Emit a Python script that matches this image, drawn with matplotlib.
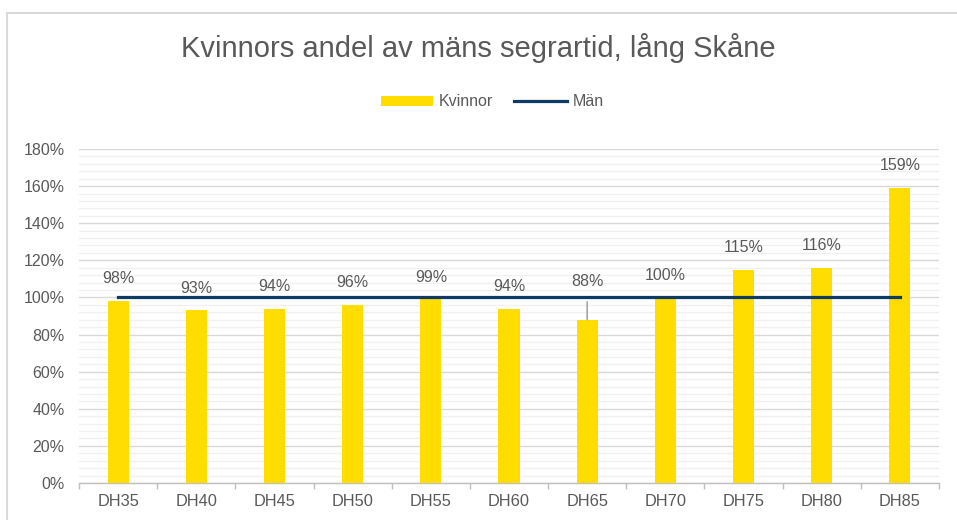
import matplotlib.pyplot as plt
from matplotlib.lines import Line2D
from matplotlib.ticker import MultipleLocator, FuncFormatter

plt.rcParams['font.family'] = ['Liberation Sans', 'DejaVu Sans']

categories = ['DH35', 'DH40', 'DH45', 'DH50', 'DH55', 'DH60', 'DH65', 'DH70', 'DH75', 'DH80', 'DH85']
kvinnor = [98, 93, 94, 96, 99, 94, 88, 100, 115, 116, 159]
man = [100] * len(categories)
# labels Excel pushed up with a leader line (index -> label height in %)
moved_labels = {6: 108.4}

YELLOW = '#FFDD00'
NAVY = '#0E3A66'
TXT = '#595959'

fig = plt.figure(figsize=(9.57, 5.2), dpi=100)
ax = fig.add_axes([79 / 957, 1 - 483 / 520, 860 / 957, 334 / 520])

x = list(range(len(categories)))
bars = ax.bar(x, kvinnor, width=0.27, color=YELLOW, zorder=3, label='Kvinnor')
line, = ax.plot(x, man, color=NAVY, linewidth=2.3, zorder=4, label='Män')

for i, v in enumerate(kvinnor):
    if i in moved_labels:
        ax.annotate(f'{v}%', xy=(i, v), xytext=(i, moved_labels[i]), ha='center', va='center',
                    fontsize=11.5, color=TXT, zorder=5,
                    arrowprops=dict(arrowstyle='-', color='#A6A6A6', lw=1.2, shrinkA=7, shrinkB=0))
    else:
        ax.annotate(f'{v}%', xy=(i, v), xytext=(0, 16), textcoords='offset points',
                    ha='center', va='center', fontsize=11.5, color=TXT, zorder=5)

ax.set_xlim(-0.5, len(categories) - 0.5)
ax.set_ylim(0, 180)
ax.yaxis.set_major_locator(MultipleLocator(20))
ax.yaxis.set_minor_locator(MultipleLocator(4))
ax.yaxis.set_major_formatter(FuncFormatter(lambda v, p: f'{v:.0f}%'))
ax.grid(axis='y', which='major', color='#D9D9D9', linewidth=1.0, zorder=0)
ax.grid(axis='y', which='minor', color='#F0F0F0', linewidth=1.0, zorder=0)
ax.set_axisbelow(True)

ax.set_xticks(x)
ax.set_xticklabels(categories)
ax.set_xticks([i - 0.5 for i in range(len(categories) + 1)], minor=True)
ax.tick_params(axis='x', which='major', length=0, labelsize=11.8, labelcolor=TXT, pad=8)
ax.tick_params(axis='x', which='minor', length=4, color='#BFBFBF', width=1)
ax.tick_params(axis='y', which='both', length=0, labelsize=11.5, labelcolor=TXT, pad=10.5)

for s in ['top', 'right', 'left']:
    ax.spines[s].set_visible(False)
ax.spines['bottom'].set_color('#BFBFBF')
ax.spines['bottom'].set_linewidth(1)

fig.text(0.5, 1 - 48 / 520, 'Kvinnors andel av mäns segrartid, lång Skåne',
         ha='center', va='center', fontsize=21, color=TXT)

leg = fig.legend([bars, line], ['Kvinnor', 'Män'], loc='center',
                 bbox_to_anchor=(492 / 957, 1 - 102 / 520), ncol=2, frameon=False,
                 fontsize=11.5, handlelength=3.3, handleheight=0.55, columnspacing=1.35,
                 handletextpad=0.33, labelcolor=TXT)

# chart frame (left and top edges visible)
fig.add_artist(Line2D([7.5 / 957, 7.5 / 957], [0, 1 - 12.5 / 520], color='#D9D9D9', lw=1.5))
fig.add_artist(Line2D([7 / 957, 1], [1 - 12.5 / 520, 1 - 12.5 / 520], color='#D9D9D9', lw=1.5))

fig.savefig('out.png', dpi=100)
